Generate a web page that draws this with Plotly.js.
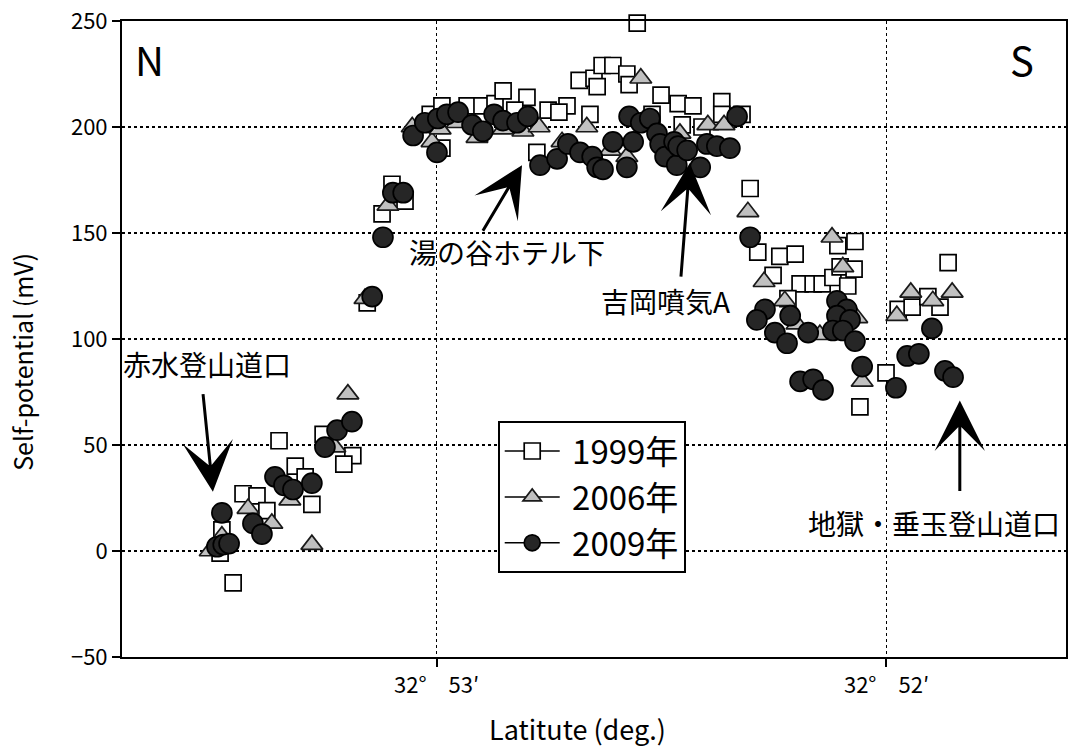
<!DOCTYPE html>
<html>
<head>
<meta charset="utf-8">
<script src="https://cdn.plot.ly/plotly-3.0.1.min.js"></script>
<style>html,body{margin:0;padding:0;background:#fff;}#chart{width:1077px;height:751px;}</style>
</head>
<body>
<div id="chart"></div>
<script>
// Latitude expressed in arc-minutes past 32°50′ (e.g. 53.0 = 32°53′)
const lat1999 = [53.452,53.481,53.477,53.430,53.399,53.377,53.350,53.314,53.292,53.277,53.252,53.186,53.206,
  53.154,53.121,53.099,53.070,52.988,53.014,52.988,52.932,52.899,52.870,52.852,52.799,52.826,52.777,52.752,52.710,52.728,52.659,52.683,52.650,52.643,52.632,52.608,52.577,52.572,52.554,52.521,52.501,52.463,52.454,52.430,52.410,52.366,52.366,52.321,52.303,
  52.286,52.237,52.203,52.252,52.192,52.163,52.143,52.119,52.108,52.070,52.103,52.072,52.086,52.219,52.059,52.001,51.974,51.943,51.908,51.881,51.863];
const sp1999 = [-15,-1,10,27,26,19,52,40,35,22,55,45,41,
  117,159,173,165,190,206,210,210,210,211,217,214,208,188,208,210,207,206,222,223,219,229,229,225,220,249,206,215,211,201,210,200,212,206,206,171,
  141,139,140,130,126,126,126,129,144,146,134,133,125,119,68,84,114,115,120,115,136];

const lat2006 = [53.503,53.477,53.419,53.366,53.326,53.277,53.197,53.226,
  53.159,53.108,53.054,53.010,52.992,52.954,52.910,52.852,52.808,52.772,52.721,52.666,52.614,52.577,52.546,52.459,52.397,52.361,
  52.308,52.272,52.226,52.199,52.148,52.121,52.097,52.066,52.054,51.977,51.946,51.897,51.854];
const sp2006 = [0,7,20,13,24,3,74,49,
  119,163,200,193,199,202,195,199,198,200,193,200,189,186,223,197,201,201,
  160,127,118,107,102,148,134,110,80,111,122,118,122];

const lat2009 = [53.488,53.474,53.461,53.477,53.408,53.388,53.359,53.339,53.319,53.277,53.248,53.221,53.188,
  53.143,53.119,53.097,53.074,53.052,53.026,52.999,52.997,52.977,52.952,52.921,52.897,52.872,52.852,52.821,52.797,52.770,52.732,52.708,52.681,52.654,52.643,52.630,52.608,52.577,52.572,52.563,52.546,52.526,52.510,52.503,52.492,52.472,52.466,52.463,52.443,52.414,52.399,52.377,52.348,52.332,
  52.303,52.270,52.288,52.214,52.248,52.221,52.174,52.110,52.088,52.110,52.081,52.119,52.097,52.070,52.054,52.192,52.163,52.141,51.979,51.954,51.928,51.899,51.870,51.852];
const sp2009 = [2,3,3.5,18,13,8,35,31,29,32,49,57,61,
  120,148,169,169,196,202,188,204,206,207,201,198,206,203,202,205,182,185,192,188,186,181,180,193,181,205,193,202,204,197,192,186,193,182,191,189,181,192,191,190,205,
  148,114,109,111,103,98,103,118,114,111,109,104,104,99,87,80,81,76,77,92,93,105,85,82];

const seriesNames = ['\u00a01999年','\u00a02006年','\u00a02009年'];
const tickVals = [53, 52];
const tickText = ['32°\u300053′', '32°\u300052′'];
const xTitle = 'Latitute (deg.)';
const yTitle = 'Self-potential (mV)';

const FONT = '"Noto Sans CJK JP", "Noto Sans", sans-serif';

const mk1999 = {symbol:'square', size:16, color:'#ffffff', line:{color:'#000', width:1.7}};
const mk2006 = {symbol:'triangle-up', size:19, color:'#c0c0c0', line:{color:'#1a1a1a', width:1.7}};
const mk2009 = {symbol:'circle', size:20, color:'#262626', line:{color:'#000', width:1.7}};

const traces = [
  {x:lat1999, y:sp1999, mode:'markers', marker:mk1999, showlegend:false, cliponaxis:false},
  {x:lat2006, y:sp2006, mode:'markers', marker:mk2006, showlegend:false, cliponaxis:false},
  {x:lat2009, y:sp2009, mode:'markers', marker:mk2009, showlegend:false, cliponaxis:false},
  {x:[null], y:[null], name:seriesNames[0], mode:'lines+markers', marker:mk1999, line:{color:'#000', width:1.5}, legendgroup:'a'},
  {x:[null], y:[null], name:seriesNames[1], mode:'lines+markers', marker:mk2006, line:{color:'#000', width:1.5}, legendgroup:'b'},
  {x:[null], y:[null], name:seriesNames[2], mode:'lines+markers', marker:mk2009, line:{color:'#000', width:1.5}, legendgroup:'c'}
];

const arrowBase = {text:'', showarrow:true, arrowhead:3, arrowsize:2.8, arrowwidth:3, arrowcolor:'#000', standoff:0, xref:'x', yref:'y'};
const labelBase = {showarrow:false, xref:'x', yref:'y', font:{family:FONT, size:28, color:'#000'}};

const layout = {
  width:1077, height:751,
  margin:{l:122, r:11, t:21, b:94},
  paper_bgcolor:'#fff', plot_bgcolor:'#fff',
  font:{family:FONT, color:'#000'},
  xaxis:{
    range:[53.699, 51.601],
    tickvals:tickVals, ticktext:tickText,
    ticks:'outside', ticklen:8, tickwidth:2, tickcolor:'#000',
    tickfont:{family:FONT, size:22, color:'#000'},
    showline:true, linewidth:2, linecolor:'#000', mirror:true,
    showgrid:true, gridcolor:'#000', gridwidth:1.2, griddash:'dot',
    zeroline:false
  },
  yaxis:{
    range:[-50, 250], dtick:50, tick0:0,
    ticks:'outside', ticklen:8, tickwidth:2, tickcolor:'#000',
    tickfont:{family:FONT, size:22, color:'#000'},
    showline:true, linewidth:2, linecolor:'#000', mirror:true,
    showgrid:true, gridcolor:'#000', gridwidth:1.2, griddash:'dot',
    zeroline:false
  },
  legend:{
    x:0.398, y:0.371, xanchor:'left', yanchor:'top',
    bgcolor:'#fff', bordercolor:'#000', borderwidth:2,
    font:{family:FONT, size:33, color:'#000'},
    itemwidth:55, tracegroupgap:0, traceorder:'normal'
  },
  annotations:[
    {xref:'paper', yref:'paper', x:0.483, y:-0.112, xanchor:'center', yanchor:'middle', showarrow:false,
     text:xTitle, font:{family:FONT, size:27, color:'#000'}},
    {xref:'paper', yref:'paper', x:-0.106, y:0.464, xanchor:'center', yanchor:'middle', showarrow:false, textangle:-90,
     text:yTitle, font:{family:FONT, size:25, color:'#000'}},
    Object.assign({}, labelBase, {x:53.637, y:232, text:'N', font:{family:FONT, size:40, color:'#000'}}),
    Object.assign({}, labelBase, {x:51.699, y:232, text:'S', font:{family:FONT, size:40, color:'#000'}}),
    Object.assign({}, labelBase, {x:53.510, y:88, text:'赤水登山道口'}),
    Object.assign({}, labelBase, {x:52.843, y:141, text:'湯の谷ホテル下'}),
    Object.assign({}, labelBase, {x:52.492, y:118, text:'吉岡噴気A'}),
    Object.assign({}, labelBase, {x:51.894, y:13, text:'地獄・垂玉登山道口'}),
    Object.assign({}, arrowBase, {x:53.497, y:28, ax:-10, ay:-99}),
    Object.assign({}, arrowBase, {x:52.810, y:182, ax:-40, ay:67}),
    Object.assign({}, arrowBase, {x:52.437, y:183, ax:-9, ay:115}),
    Object.assign({}, arrowBase, {x:51.837, y:71, ax:0, ay:92})
  ]
};

Plotly.newPlot('chart', traces, layout, {displayModeBar:false, staticPlot:true});
</script>
</body>
</html>
